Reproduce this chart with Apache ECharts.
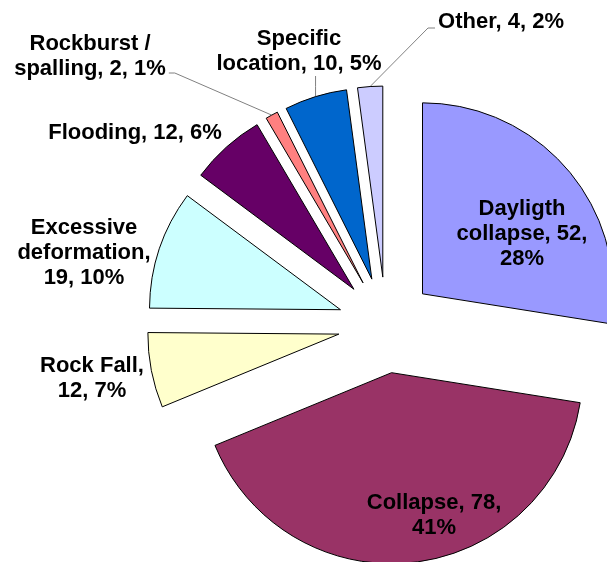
<!DOCTYPE html>
<html>
<head>
<meta charset="utf-8">
<script src="https://cdn.jsdelivr.net/npm/echarts@6.0.0/dist/echarts.min.js"></script>
<style>
html, body { margin: 0; padding: 0; background: #fff; }
#pie { width: 607px; height: 562px; }
</style>
</head>
<body>
<div id="pie"></div>
<script>
// slices, clockwise from 12 o'clock
const categories = ['Dayligth\ncollapse', 'Collapse', 'Rock Fall', 'Excessive\ndeformation', 'Flooding', 'Rockburst /\nspalling', 'Specific\nlocation', 'Other'];
const values = [52, 78, 12, 19, 12, 2, 10, 4];
const percents = [28, 41, 7, 10, 6, 1, 5, 2];
// where each label breaks: 1 = after name, 2 = after value, 0 = no extra break
const wraps = [2, 2, 1, 1, 0, 0, 0, 0];

const colors = ['#9999ff', '#993366', '#ffffcc', '#ccffff', '#660066', '#ff8080', '#0066cc', '#ccccff'];
const labelPos = [[522, 234], [434, 515], [92, 378], [84, 253], [135, 133], [90, 56], [299, 51], [501, 22]];
const insideLabel = [true, true, false, false, false, false, false, false];
// which side of the label the leader line comes in from
const leaderSide = [null, null, null, null, null, 'right', 'below', 'left'];

const cx = 386, cy = 325, radius = 191, explode = 48;

const chart = echarts.init(document.getElementById('pie'));

const total = values.reduce((a, b) => a + b, 0);
let acc = 0;
const series = [];
const arcMid = [];

function leaderPoints(k, rect) {
	const [lx, ly] = labelPos[k];
	const a = arcMid[k];
	const w = rect.width, h = rect.height;
	if (leaderSide[k] === 'right') {
		const y = ly + h / 2 - 8;
		return [a, [lx + w / 2 + 9, y], [lx + w / 2 + 3, y]];
	}
	if (leaderSide[k] === 'left') {
		const y = ly + 6;
		return [a, [lx - w / 2 - 10, y], [lx - w / 2 - 3, y]];
	}
	const yEnd = ly + h / 2;
	return [a, [a[0], (a[1] + yEnd) / 2], [a[0], yEnd]];
}

// one pie per slice, so every slice can be pulled out along its own middle angle
values.forEach((v, i) => {
	const mid = (acc + v / 2) / total * 2 * Math.PI;
	acc += v;
	const center = [cx + explode * Math.sin(mid), cy - explode * Math.cos(mid)];
	arcMid[i] = [center[0] + radius * Math.sin(mid), center[1] - radius * Math.cos(mid)];
	series.push({
		type: 'pie',
		center: center,
		radius: radius,
		startAngle: 90,
		clockwise: true,
		avoidLabelOverlap: false,
		emphasis: { disabled: true },
		label: {
			color: '#000',
			fontFamily: '"Liberation Sans", Arial, sans-serif',
			fontWeight: 'bold',
			fontSize: 22,
			lineHeight: 25,
			align: 'center',
			formatter: p => {
				const k = p.dataIndex;
				const s1 = wraps[k] === 1 ? ',\n' : ', ';
				const s2 = wraps[k] === 2 ? ',\n' : ', ';
				return p.name + s1 + p.value + s2 + percents[k] + '%';
			}
		},
		labelLine: {
			length: 10,
			length2: 8,
			lineStyle: { color: '#808080', width: 1 }
		},
		labelLayout: p => {
			const k = p.dataIndex;
			const out = {
				x: labelPos[k][0],
				y: labelPos[k][1],
				align: 'center',
				verticalAlign: 'middle'
			};
			if (leaderSide[k]) out.labelLinePoints = leaderPoints(k, p.labelRect);
			return out;
		},
		data: categories.map((name, j) => ({
			name: name,
			value: values[j],
			itemStyle: j === i
				? { color: colors[j], borderColor: '#000', borderWidth: 1 }
				: { color: 'rgba(0,0,0,0)', borderWidth: 0 },
			label: { show: j === i, position: insideLabel[j] ? 'inside' : 'outside' },
			labelLine: { show: j === i && !!leaderSide[j] }
		}))
	});
});

chart.setOption({
	animation: false,
	series: series
});
</script>
</body>
</html>
